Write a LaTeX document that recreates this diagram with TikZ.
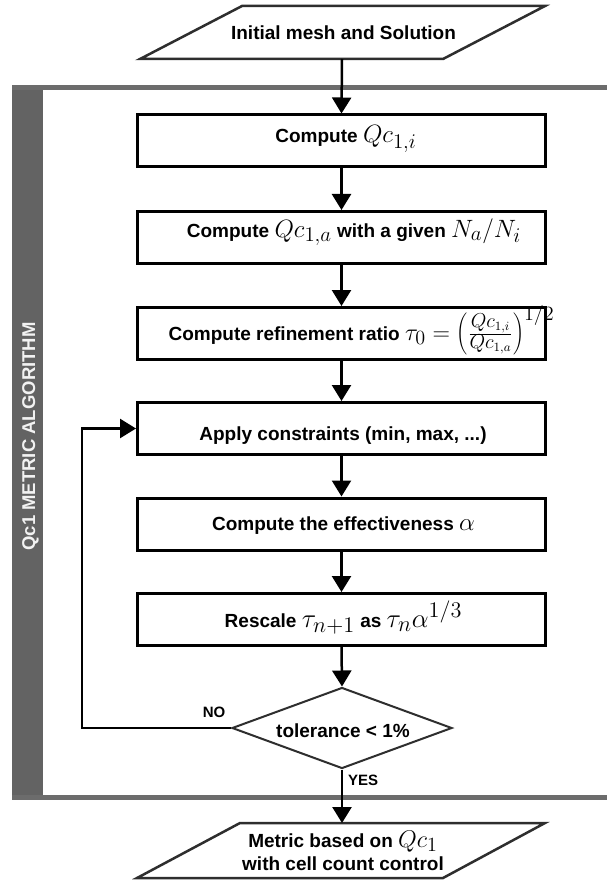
\documentclass[tikz,border=0pt]{standalone}
\usepackage{fontspec}
\usepackage{graphicx}
\setmainfont{Liberation Sans}
\usetikzlibrary{arrows.meta,shapes.geometric}
\definecolor{bandgray}{HTML}{636363}
\definecolor{linegray}{HTML}{6C6C6C}
\definecolor{edgegray}{HTML}{2E2E2E}
\definecolor{sidetext}{HTML}{F2F2F2}
\newcommand{\mth}[2][1.45]{\scalebox{#1}{$#2$}}
\begin{document}
\begin{tikzpicture}[x=1pt,y=-1pt,
  box/.style={draw=black, line width=3pt, fill=white, minimum width=408pt, minimum height=52pt, inner sep=0pt},
  txt/.style={font=\fontsize{19}{22}\selectfont\bfseries, inner sep=0pt, anchor=base},
  small/.style={font=\fontsize{15}{18}\selectfont\bfseries, inner sep=0pt, anchor=base},
  arr/.style={draw=black, line width=2.5pt, -{Triangle[length=16pt,width=19pt]}},
  para/.style={draw=edgegray, line width=2.5pt, fill=white, line join=miter}]
\useasboundingbox (0,0) rectangle (607,885);
% frame of the algorithm
\fill[white] (12,85) rectangle (607,800);
\fill[bandgray] (12,85) rectangle (43,800);
\draw[linegray, line width=5pt] (12,87.5) -- (607,87.5);
\draw[linegray, line width=5pt] (12,797.5) -- (607,797.5);
\node[txt, font=\fontsize{18.5}{22}\selectfont\bfseries, text=sidetext, rotate=90] (side) at (35,436.5) {Qc1 METRIC ALGORITHM};
% top input
\draw[para] (242,6) -- (545,6) -- (443,59) -- (140,59) -- cycle;
\coordinate (inbot) at (342,59);
\node[txt] (init) at (343.5,39.5) {Initial mesh and Solution};
% boxes
\node[box] (b1) at (341.5,141) {};
\node[box] (b2) at (341.5,237.5) {};
\node[box] (b3) at (341.5,333.5) {};
\node[box] (b4) at (341.5,428.5) {};
\node[box] (b5) at (341.5,524) {};
\node[box] (b6) at (341.5,619.5) {};
\node[txt] (t1) at (346,143) {Compute \mth{Qc_{1,i}}};
\node[txt] (t2) at (354,237) {Compute \mth{Qc_{1,a}} with a given \mth{N_a/N_i}};
\node[txt] (t3) at (361.5,340) {Compute refinement ratio \mth[1.4]{\tau_0=\left(\frac{Qc_{1,i}}{Qc_{1,a}}\right)^{1/2}}};
\node[txt] (t4) at (343,440) {Apply constraints (min, max, ...)};
\node[txt] (t5) at (343.5,530) {Compute the effectiveness \mth{\alpha}};
\node[txt] (t6) at (343.5,627) {Rescale \mth[1.55]{\tau_{n+1}} as \mth[1.55]{\tau_n\alpha^{1/3}}};
% decision
\node[diamond, draw=edgegray, line width=2pt, fill=white, minimum width=220pt, minimum height=81pt, inner sep=0pt] (dec) at (342,728) {};
\node[txt] (tol) at (343,737) {tolerance < 1\%};
\node[small] (no) at (214,717) {NO};
\node[small, anchor=base west] (yes) at (348,785) {YES};
% output
\draw[para] (240,823) -- (545,823) -- (443,878) -- (137,878) -- cycle;
\coordinate (outtop) at (342,823);
\node[txt] (m1) at (343,847) {Metric based on \mth[1.4]{Qc_1}};
\node[txt] (m2) at (343,870) {with cell count control};
% connectors
\coordinate (loop) at (82,728);
\draw[arr] (inbot) -- (b1.north);
\draw[arr] (b1.south) -- (b2.north);
\draw[arr] (b2.south) -- (b3.north);
\draw[arr] (b3.south) -- (b4.north);
\draw[arr] (b4.south) -- (b5.north);
\draw[arr] (b5.south) -- (b6.north);
\draw[arr] (b6.south) -- (dec.north);
\draw[arr] (dec.west) -- (loop) |- (b4.west);
\draw[arr] (dec.south) -- (outtop);
\end{tikzpicture}
\end{document}
